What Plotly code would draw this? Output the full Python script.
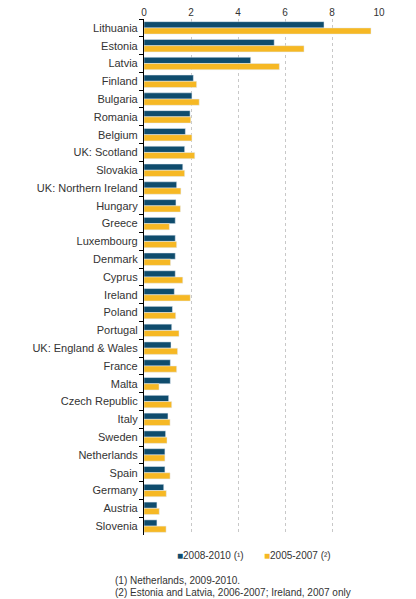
import plotly.graph_objects as go

# Countries (top to bottom)
countries = [
    "Lithuania", "Estonia", "Latvia", "Finland", "Bulgaria", "Romania",
    "Belgium", "UK: Scotland", "Slovakia", "UK: Northern Ireland", "Hungary",
    "Greece", "Luxembourg", "Denmark", "Cyprus", "Ireland", "Poland",
    "Portugal", "UK: England & Wales", "France", "Malta", "Czech Republic",
    "Italy", "Sweden", "Netherlands", "Spain", "Germany", "Austria", "Slovenia",
]

# 2008-2010 values
vals_2008_2010 = [
    7.66, 5.54, 4.54, 2.10, 2.04, 1.96, 1.76, 1.73, 1.65, 1.39, 1.36,
    1.33, 1.33, 1.33, 1.33, 1.29, 1.21, 1.18, 1.15, 1.12, 1.12, 1.05,
    1.02, 0.92, 0.89, 0.89, 0.84, 0.55, 0.55,
]

# 2005-2007 values
vals_2005_2007 = [
    9.66, 6.81, 5.76, 2.24, 2.35, 1.99, 2.04, 2.16, 1.73, 1.57, 1.55,
    1.08, 1.39, 1.13, 1.65, 1.97, 1.35, 1.49, 1.43, 1.39, 0.64, 1.18,
    1.11, 0.98, 0.89, 1.11, 0.95, 0.65, 0.94,
]

series_names = ["2008-2010 (¹)", "2005-2007 (²)"]
colors = ["#0f4c6d", "#f6b824"]

x_ticks = [0, 2, 4, 6, 8, 10]

footnotes = [
    "(1) Netherlands, 2009-2010.",
    "(2) Estonia and Latvia, 2006-2007; Ireland, 2007 only",
]

fig = go.Figure()
for vals, name, col in zip([vals_2008_2010, vals_2005_2007], series_names, colors):
    fig.add_trace(go.Bar(
        y=countries, x=vals, orientation="h",
        name=name, marker_color=col, showlegend=False,
    ))

# page body has an 8px margin, so the figure is a bit smaller than the window
fig.update_layout(
    width=400, height=591,
    margin=dict(l=136, r=29, t=11, b=64, autoexpand=False),
    paper_bgcolor="white", plot_bgcolor="white",
    font=dict(family="Liberation Sans, Arial, sans-serif", size=11, color="#333333"),
    barmode="group", bargap=0.3, bargroupgap=0,
    showlegend=False,
    xaxis=dict(
        side="top", range=[0, 10], tickvals=x_ticks,
        showgrid=True, gridcolor="#c8c8c8", griddash="dot", gridwidth=1,
        zeroline=False, showline=False, ticks="",
        tickfont=dict(size=10), fixedrange=True, automargin=False,
    ),
    yaxis=dict(
        autorange="reversed", showline=True, linecolor="black", linewidth=1,
        ticks="outside", tickson="boundaries", ticklen=4, tickcolor="black",
        showgrid=False, ticksuffix=" ", automargin=False,
    ),
)

# legend drawn as small coloured squares + text
legend_x = [0.13, 0.50]
for name, col, lx in zip(series_names, colors, legend_x):
    fig.add_annotation(
        text=f'<span style="color:{col}">■</span>{name}',
        xref="paper", yref="paper", x=lx, y=-0.039,
        xanchor="left", yanchor="middle", showarrow=False,
        font=dict(size=10, color="#333333"),
    )

for i, txt in enumerate(footnotes):
    fig.add_annotation(
        text=txt, xref="paper", yref="paper", x=-0.132, y=-0.089 - i * 0.023,
        xanchor="left", yanchor="middle", showarrow=False,
        font=dict(size=10, color="#333333"),
    )

fig.write_html("out.html")
